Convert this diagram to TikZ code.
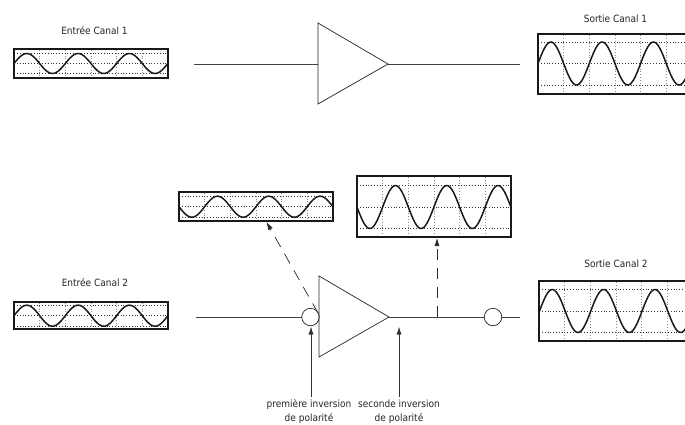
\documentclass[tikz,border=0pt]{standalone}
\usepackage{fontspec}
\setmainfont{DejaVu Sans Condensed}
\usetikzlibrary{arrows.meta}
\tikzset{
  x=1pt,y=-1pt,
  frame/.style={draw=black!90,line width=1.7pt,fill=none,inner sep=0pt,outer sep=0pt,rectangle},
  gridh/.style={black!80,line width=.7pt,dash pattern=on .8pt off 2pt},
  gridv/.style={black!45,line width=.7pt,dash pattern=on .8pt off 2pt},
  wave/.style={black!90,line width=1.5pt,line join=round},
  wire/.style={black!75,line width=.8pt},
  amp/.style={draw=black!85,line width=.7pt,fill=none,line join=miter},
  inverter/.style={circle,draw=black!85,line width=.7pt,minimum size=17.5pt,inner sep=0pt,outer sep=0pt},
  pointer/.style={black!80,line width=.7pt,-{Latex[length=8pt,width=5pt]}},
  probe/.style={black!85,line width=.7pt,dash pattern=on 11pt off 8pt,-{Latex[length=8pt,width=5pt]}},
  title/.style={font=\fontsize{10}{12}\selectfont,inner sep=0pt,text=black!85},
  note/.style={font=\fontsize{10}{14.3}\selectfont,inner sep=0pt,align=center,text=black!85},
}
% #1 name, #2 left, #3 right, #4 top, #5 bottom, #6 centre y, #7 amplitude, #8 sign, #9 left edge of the wave
\newcommand{\scopeview}[9]{%
  \begin{scope}
    \clip (0,0) rectangle (685,424);
    \foreach \k in {1,...,5} \draw[gridv] ({#2+\k*25.65},{#4+1}) -- ({#2+\k*25.65},{#5-1});
    \foreach \d in {-1,0,1} \draw[gridh] ({#2+3},{#6+\d*#7}) -- ({#3-2},{#6+\d*#7});
    \draw[wave] plot[domain=#2:#3,samples=120,smooth] (\x,{#6-#8*#7*sin((\x-#9)*7.018)});
    \node[frame,minimum width={(#3-#2)*1pt},minimum height={(#5-#4)*1pt},anchor=north west] (#1) at (#2,#4) {};
  \end{scope}%
}
\begin{document}
\begin{tikzpicture}
\useasboundingbox (0,0) rectangle (685,424);
\fill[white] (0,0) rectangle (685,424);

% Channel 1
\node[title] (t1) at (94.5,30.5) {Entrée Canal 1};
\node[title] (t2) at (615.5,18.5) {Sortie Canal 1};
\scopeview{in1}{14}{168}{49}{78}{63.5}{10}{1}{14}
\scopeview{out1}{538}{690}{34}{94}{63.5}{21.5}{1}{538}
\coordinate (a1n) at (318,23);
\coordinate (a1s) at (318,104);
\coordinate (a1t) at (388,64);
\coordinate (a1w) at (318,64);
\coordinate (w1a) at (194,64);
\coordinate (w1b) at (520,64);
\draw[wire] (w1a) -- (a1w);
\draw[wire] (a1t) -- (w1b);
\draw[amp] (a1n) -- (a1s) -- (a1t) -- cycle;

% Channel 2
\node[title] (t3) at (95,283) {Entrée Canal 2};
\node[title] (t4) at (616,263.5) {Sortie Canal 2};
\scopeview{in2}{14}{168}{302}{329}{315.7}{10.5}{1}{14}
\scopeview{out2}{539}{690}{281}{341}{311}{21.5}{1}{539.5}
\scopeview{inv1}{179}{333}{192}{221}{206.7}{10.5}{-1}{179}
\scopeview{inv2}{357}{511}{176}{237}{207}{21.5}{-1}{357}
\coordinate (a2n) at (319,276);
\coordinate (a2s) at (319,357);
\coordinate (a2t) at (389,317);
\coordinate (w2a) at (196,317);
\coordinate (w2b) at (520,317);
\coordinate (tap) at (437,317);
\node[inverter] (c1) at (310.5,317) {};
\node[inverter] (c2) at (493,317) {};
\draw[wire] (w2a) -- (c1.west);
\draw[wire] (a2t) -- (c2.west);
\draw[wire] (c2.east) -- (w2b);
\draw[amp] (a2n) -- (a2s) -- (a2t) -- cycle;

% Probes
\coordinate (p1) at (318,313);
\coordinate (p1e) at (266.5,222);
\coordinate (p2e) at (437,238);
\draw[probe] (p1) -- (p1e);
\draw[probe] (tap) -- (p2e);

% Notes
\node[note] (n1) at (309,411.5) {première inversion\\de polarité};
\node[note] (n2) at (399,411.5) {seconde inversion\\de polarité};
\coordinate (n1t) at (311,397);
\coordinate (n2t) at (399,397);
\coordinate (c1b) at (311,326.5);
\coordinate (a2b) at (399,326.5);
\draw[pointer] (n1t) -- (c1b);
\draw[pointer] (n2t) -- (a2b);
\end{tikzpicture}
\end{document}
